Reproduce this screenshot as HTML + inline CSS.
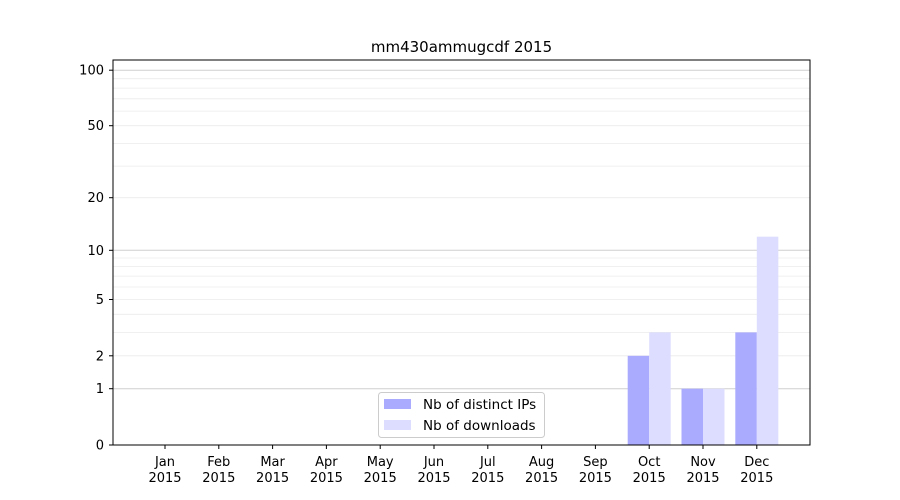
<!DOCTYPE html>
<html><head><style>body{margin:0;background:#fff}svg{display:block}text{font-family:"DejaVu Sans","Liberation Sans",sans-serif;font-size:13px;fill:#000}</style></head>
<body>
<svg width="900" height="500" viewBox="0 0 900 500" xmlns="http://www.w3.org/2000/svg">
<rect width="900" height="500" fill="#fff"/>
<g stroke="#ebebeb" stroke-width="0.8">
<line x1="113" x2="810" y1="355.8" y2="355.8"/>
<line x1="113" x2="810" y1="332.4" y2="332.4"/>
<line x1="113" x2="810" y1="314.3" y2="314.3"/>
<line x1="113" x2="810" y1="299.5" y2="299.5"/>
<line x1="113" x2="810" y1="287.0" y2="287.0"/>
<line x1="113" x2="810" y1="276.1" y2="276.1"/>
<line x1="113" x2="810" y1="266.6" y2="266.6"/>
<line x1="113" x2="810" y1="258.0" y2="258.0"/>
<line x1="113" x2="810" y1="197.7" y2="197.7"/>
<line x1="113" x2="810" y1="166.1" y2="166.1"/>
<line x1="113" x2="810" y1="143.4" y2="143.4"/>
<line x1="113" x2="810" y1="125.7" y2="125.7"/>
<line x1="113" x2="810" y1="111.1" y2="111.1"/>
<line x1="113" x2="810" y1="98.8" y2="98.8"/>
<line x1="113" x2="810" y1="88.1" y2="88.1"/>
<line x1="113" x2="810" y1="78.7" y2="78.7"/>
</g>
<g stroke="#cfcfcf" stroke-width="1">
<line x1="113" x2="810" y1="388.7" y2="388.7"/>
<line x1="113" x2="810" y1="250.3" y2="250.3"/>
<line x1="113" x2="810" y1="70.2" y2="70.2"/>
</g>
<rect x="627.7" y="355.8" width="21.5" height="89.2" fill="#aaaaff"/>
<rect x="649.2" y="332.4" width="21.5" height="112.6" fill="#ddddff"/>
<rect x="681.5" y="388.7" width="21.5" height="56.3" fill="#aaaaff"/>
<rect x="703" y="388.7" width="21.5" height="56.3" fill="#ddddff"/>
<rect x="735.3" y="332.4" width="21.5" height="112.6" fill="#aaaaff"/>
<rect x="756.8" y="236.7" width="21.5" height="208.3" fill="#ddddff"/>
<rect x="113" y="60" width="697" height="385" fill="none" stroke="#000" stroke-width="1"/>
<g stroke="#000">
<line x1="109" x2="113" y1="445" y2="445"/>
<line x1="109" x2="113" y1="388.7" y2="388.7"/>
<line x1="109" x2="113" y1="355.8" y2="355.8"/>
<line x1="109" x2="113" y1="299.5" y2="299.5"/>
<line x1="109" x2="113" y1="250.3" y2="250.3"/>
<line x1="109" x2="113" y1="197.7" y2="197.7"/>
<line x1="109" x2="113" y1="125.7" y2="125.7"/>
<line x1="109" x2="113" y1="70.2" y2="70.2"/>
</g>
<g text-anchor="end">
<text x="104" y="449.5">0</text>
<text x="104" y="393.2">1</text>
<text x="104" y="360.3">2</text>
<text x="104" y="304">5</text>
<text x="104" y="254.8">10</text>
<text x="104" y="202.2">20</text>
<text x="104" y="130.2">50</text>
<text x="104" y="74.7">100</text>
</g>
<g stroke="#000">
<line x1="165" x2="165" y1="445" y2="449"/>
<line x1="218.8" x2="218.8" y1="445" y2="449"/>
<line x1="272.6" x2="272.6" y1="445" y2="449"/>
<line x1="326.4" x2="326.4" y1="445" y2="449"/>
<line x1="380.2" x2="380.2" y1="445" y2="449"/>
<line x1="434" x2="434" y1="445" y2="449"/>
<line x1="487.8" x2="487.8" y1="445" y2="449"/>
<line x1="541.6" x2="541.6" y1="445" y2="449"/>
<line x1="595.4" x2="595.4" y1="445" y2="449"/>
<line x1="649.2" x2="649.2" y1="445" y2="449"/>
<line x1="703" x2="703" y1="445" y2="449"/>
<line x1="756.8" x2="756.8" y1="445" y2="449"/>
</g>
<g text-anchor="middle">
<text x="165" y="466">Jan</text><text x="165" y="482">2015</text>
<text x="218.8" y="466">Feb</text><text x="218.8" y="482">2015</text>
<text x="272.6" y="466">Mar</text><text x="272.6" y="482">2015</text>
<text x="326.4" y="466">Apr</text><text x="326.4" y="482">2015</text>
<text x="380.2" y="466">May</text><text x="380.2" y="482">2015</text>
<text x="434" y="466">Jun</text><text x="434" y="482">2015</text>
<text x="487.8" y="466">Jul</text><text x="487.8" y="482">2015</text>
<text x="541.6" y="466">Aug</text><text x="541.6" y="482">2015</text>
<text x="595.4" y="466">Sep</text><text x="595.4" y="482">2015</text>
<text x="649.2" y="466">Oct</text><text x="649.2" y="482">2015</text>
<text x="703" y="466">Nov</text><text x="703" y="482">2015</text>
<text x="756.8" y="466">Dec</text><text x="756.8" y="482">2015</text>
</g>
<text x="461.5" y="52" text-anchor="middle" style="font-size:15px">mm430ammugcdf 2015</text>
<rect x="378.5" y="392.5" width="166" height="45" rx="3" fill="#fff" fill-opacity="0.8" stroke="#ccc"/>
<rect x="384" y="399" width="27" height="10" fill="#aaaaff"/>
<rect x="384" y="420" width="27" height="10" fill="#ddddff"/>
<text x="423" y="409" style="font-size:13.5px">Nb of distinct IPs</text>
<text x="423" y="430" style="font-size:13.5px">Nb of downloads</text>
</svg>
</body></html>
